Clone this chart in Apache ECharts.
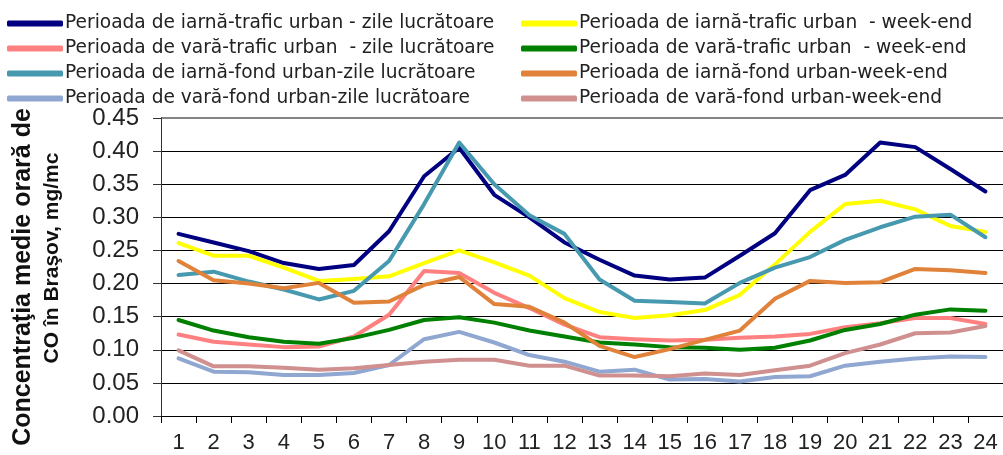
<!DOCTYPE html>
<html>
<head>
<meta charset="utf-8">
<script src="https://cdn.jsdelivr.net/npm/echarts@6/dist/echarts.min.js"></script>
<style>
    html, body { margin: 0; padding: 0; background: #fff; }
    #main { width: 1003px; height: 455px; }
</style>
</head>
<body>
<div id="main"></div>
<script>
var ore = ['1','2','3','4','5','6','7','8','9','10','11','12','13','14','15','16','17','18','19','20','21','22','23','24'];
var yTicks = [0, 0.05, 0.10, 0.15, 0.20, 0.25, 0.30, 0.35, 0.40, 0.45];

// valori, mg/mc
var iarnaTraficLucr = [0.275,0.262,0.249,0.231,0.222,0.228,0.279,0.362,0.405,0.334,0.300,0.262,0.236,0.212,0.206,0.209,0.242,0.276,0.341,0.364,0.413,0.406,0.373,0.339];
var iarnaTraficWE   = [0.261,0.242,0.242,0.224,0.204,0.207,0.211,0.231,0.250,0.232,0.212,0.178,0.157,0.148,0.152,0.160,0.183,0.229,0.278,0.320,0.325,0.312,0.287,0.278];
var varaTraficLucr  = [0.123,0.112,0.108,0.104,0.105,0.120,0.153,0.219,0.216,0.186,0.163,0.138,0.119,0.116,0.114,0.115,0.118,0.120,0.124,0.134,0.140,0.148,0.148,0.139];
var varaTraficWE    = [0.145,0.129,0.119,0.112,0.109,0.118,0.130,0.145,0.149,0.141,0.129,0.120,0.111,0.108,0.104,0.103,0.100,0.103,0.114,0.130,0.139,0.153,0.161,0.159];
var iarnaFondLucr   = [0.213,0.218,0.203,0.191,0.176,0.189,0.234,0.320,0.413,0.350,0.303,0.275,0.206,0.174,0.172,0.170,0.201,0.224,0.240,0.266,0.285,0.301,0.304,0.270];
var iarnaFondWE     = [0.234,0.205,0.200,0.193,0.201,0.171,0.173,0.198,0.210,0.169,0.165,0.141,0.106,0.089,0.101,0.115,0.129,0.177,0.204,0.201,0.202,0.222,0.220,0.216];
var varaFondLucr    = [0.087,0.067,0.066,0.062,0.062,0.065,0.077,0.116,0.127,0.111,0.092,0.082,0.067,0.070,0.055,0.056,0.052,0.059,0.060,0.076,0.082,0.087,0.090,0.089];
var varaFondWE      = [0.099,0.075,0.075,0.073,0.070,0.072,0.077,0.082,0.085,0.085,0.076,0.076,0.061,0.061,0.060,0.064,0.062,0.069,0.076,0.095,0.108,0.125,0.126,0.136];

var serii = [
    {name: 'Perioada de iarnă-trafic urban - zile lucrătoare', data: iarnaTraficLucr, color: '#000080'},
    {name: 'Perioada de iarnă-trafic urban  - week-end', data: iarnaTraficWE, color: '#FFFF00'},
    {name: 'Perioada de vară-trafic urban  - zile lucrătoare', data: varaTraficLucr, color: '#FF8080'},
    {name: 'Perioada de vară-trafic urban  - week-end', data: varaTraficWE, color: '#008000'},
    {name: 'Perioada de iarnă-fond urban-zile lucrătoare', data: iarnaFondLucr, color: '#4799AF'},
    {name: 'Perioada de iarnă-fond urban-week-end', data: iarnaFondWE, color: '#E0823A'},
    {name: 'Perioada de vară-fond urban-zile lucrătoare', data: varaFondLucr, color: '#8FA7D1'},
    {name: 'Perioada de vară-fond urban-week-end', data: varaFondWE, color: '#D09090'}
];

var myChart;

window.onload = function () {
    initChart();
};

function legendBox(left, names) {
    return {
        orient: 'vertical',
        left: left,
        top: 14,
        padding: 0,
        itemWidth: 56,
        itemHeight: 6,
        itemGap: 6,
        icon: 'roundRect',
        data: names,
        textStyle: {
            fontFamily: 'DejaVu Sans',
            fontSize: 18.6,
            lineHeight: 18,
            color: '#222',
            padding: [0, 0, 0, -3]
        }
    };
}

function initChart() {
    myChart = echarts.init(document.getElementById('main'));

    var series = [];
    for (var i = 0; i < serii.length; i++) {
        series.push({
            name: serii[i].name,
            type: 'line',
            data: serii[i].data,
            symbol: 'none',
            smooth: false,
            color: serii[i].color,
            lineStyle: {width: 4, color: serii[i].color, cap: 'round', join: 'round'}
        });
    }

    var gridColors = [];
    for (var k = 0; k < yTicks.length; k++) {
        gridColors.push(k == yTicks.length - 1 ? 'rgba(0,0,0,0)' : '#000');
    }

    var options = {
        animation: false,
        legend: [
            legendBox(7, [serii[0].name, serii[2].name, serii[4].name, serii[6].name]),
            legendBox(521, [serii[1].name, serii[3].name, serii[5].name, serii[7].name])
        ],
        grid: {
            left: 161,
            top: 118,
            right: -4,
            bottom: 39,
            containLabel: false
        },
        xAxis: {
            type: 'category',
            data: ore,
            boundaryGap: true,
            axisLine: {show: true, lineStyle: {color: '#000', width: 1}},
            axisTick: {show: true, length: 7, lineStyle: {color: '#000'}},
            axisLabel: {
                margin: 16,
                fontFamily: 'Liberation Sans',
                fontSize: 22,
                color: '#222',
                interval: 0
            },
            splitLine: {show: false}
        },
        yAxis: [{
            type: 'value',
            min: 0,
            max: 0.45,
            interval: 0.05,
            axisLine: {show: true, lineStyle: {color: '#333', width: 1}},
            axisTick: {show: true, length: 8, lineStyle: {color: '#333'}},
            axisLabel: {
                margin: 22,
                fontFamily: 'Liberation Sans',
                fontSize: 24,
                color: '#222',
                formatter: function (v) { return v.toFixed(2); }
            },
            splitLine: {show: true, lineStyle: {color: gridColors, width: 1}}
        }, {
            // doar linia gri de sus a zonei graficului
            type: 'value',
            min: 0,
            max: 0.45,
            interval: 0.45,
            position: 'left',
            axisLine: {show: false},
            axisTick: {show: false},
            axisLabel: {show: false},
            splitLine: {show: true, lineStyle: {color: ['rgba(0,0,0,0)', '#858585'], width: 2}}
        }],
        graphic: [{
            type: 'text',
            x: 23,
            y: 277,
            rotation: Math.PI / 2,
            style: {
                text: 'Concentraţia medie orară de',
                fontFamily: 'Liberation Sans',
                fontWeight: 'bold',
                fontSize: 25,
                fill: '#111',
                align: 'center',
                verticalAlign: 'middle'
            }
        }, {
            type: 'text',
            x: 52,
            y: 258,
            rotation: Math.PI / 2,
            style: {
                text: 'CO în Braşov, mg/mc',
                fontFamily: 'Liberation Sans',
                fontWeight: 'bold',
                fontSize: 21,
                fill: '#111',
                align: 'center',
                verticalAlign: 'middle'
            }
        }],
        series: series
    };
    myChart.setOption(options);
}
</script>
</body>
</html>
